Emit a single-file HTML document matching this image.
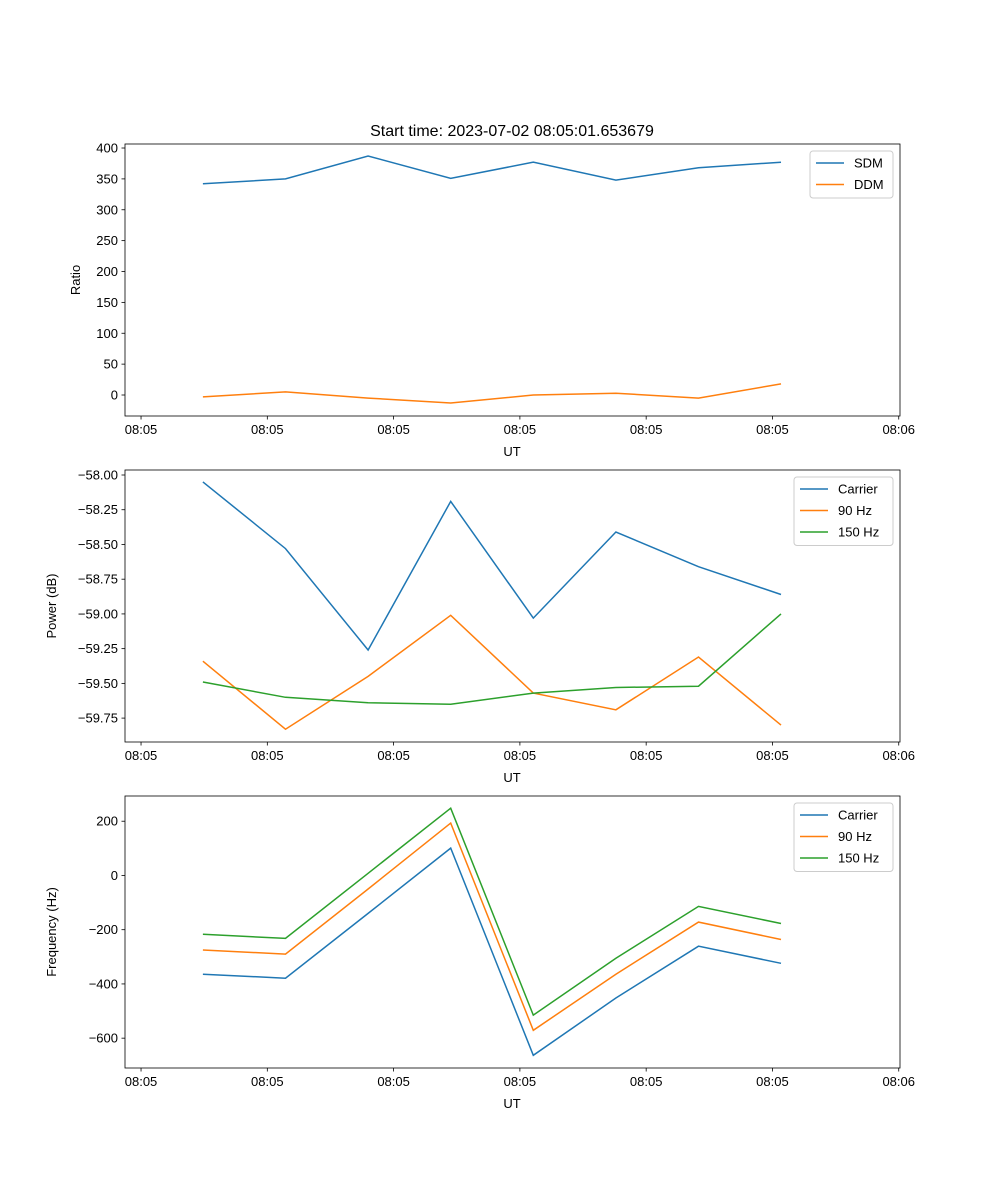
<!DOCTYPE html>
<html><head><meta charset="utf-8"><style>
body{margin:0;background:#fff}
svg{display:block;font-family:"Liberation Sans","DejaVu Sans",sans-serif}
</style></head><body>
<svg id="fig" width="1000" height="1200" viewBox="0 0 1000 1200"></svg>
<script>
const times=[0.49,1.144,1.798,2.452,3.106,3.76,4.414,5.068];
const xTickVals=[0,1,2,3,4,5,6];
const xTickLabels=["08:05","08:05","08:05","08:05","08:05","08:05","08:06"];
const sdm=[342,350,387,351,377,348,368,377];
const ddm=[-3,5,-5,-13,0,3,-5,18];
const pCarrier=[-58.05,-58.53,-59.26,-58.19,-59.03,-58.41,-58.66,-58.86];
const p90=[-59.34,-59.83,-59.45,-59.01,-59.57,-59.69,-59.31,-59.80];
const p150=[-59.49,-59.60,-59.64,-59.65,-59.57,-59.53,-59.52,-59.00];
const fCarrier=[-364,-379,-140,101,-663,-452,-261,-324];
const f90=[-275,-290,-50,193,-571,-364,-172,-236];
const f150=[-217,-232,8,248,-515,-305,-114,-177];
const ticks1=[0,50,100,150,200,250,300,350,400];
const ticks2=[-59.75,-59.5,-59.25,-59,-58.75,-58.5,-58.25,-58];
const ticks3=[-600,-400,-200,0,200];
const C=["#1f77b4","#ff7f0e","#2ca02c"];
const NS="http://www.w3.org/2000/svg";
const svg=document.getElementById("fig");
function el(tag,attrs,parent){const e=document.createElementNS(NS,tag);for(const k in attrs)e.setAttribute(k,attrs[k]);(parent||svg).appendChild(e);return e;}
const L=125,R=900,xmin=-0.127,xmax=6.01;
const xs=v=>L+(v-xmin)/(xmax-xmin)*(R-L);
function panel(idx,top,bottom,ymin,ymax,yt,fmt,ylabel,series,names,legW){
  const g=el("g",{});
  
  
  const ys=v=>bottom-(v-ymin)/(ymax-ymin)*(bottom-top);
  series.forEach((s,i)=>{
    const p=el("polyline",{points:s.map((v,j)=>xs(times[j]).toFixed(1)+","+ys(v).toFixed(1)).join(" "),fill:"none",stroke:C[i],"stroke-width":1.5},g);
    
    
  });
  const f=el("rect",{x:L,y:top,width:R-L,height:bottom-top,fill:"none",stroke:"#000","stroke-width":0.8},g);
  
  
  xTickVals.forEach((v,i)=>{
    const x=xs(v);
    el("line",{x1:x,x2:x,y1:bottom,y2:bottom+3.5,stroke:"#000","stroke-width":0.8},g);
    const t=el("text",{x:x,y:bottom+18,"font-size":13,"text-anchor":"middle"},g);t.textContent=xTickLabels[i];
    
    
  });
  const xl=el("text",{x:512,y:bottom+40,"font-size":13,"text-anchor":"middle"},g);xl.textContent="UT";
  
  
  yt.forEach(v=>{
    const y=ys(v);
    el("line",{x1:L-3.5,x2:L,y1:y,y2:y,stroke:"#000","stroke-width":0.8},g);
    const t=el("text",{x:L-7,y:y+4.5,"font-size":13,"text-anchor":"end"},g);t.textContent=fmt(v);
    
    
  });
  const yl=el("text",{transform:`translate(${idx==1?80:56},${(top+bottom)/2}) rotate(-90)`,"font-size":13,"text-anchor":"middle"},g);yl.textContent=ylabel;
  
  
  const lg=el("g",{},g);
  
  
  const lx=R-7-legW,ly=top+7;
  el("rect",{x:lx,y:ly,width:legW,height:names.length*21.5+4,fill:"#fff",stroke:"#ccc",rx:3},lg);
  names.forEach((n,i)=>{
    const yy=ly+12+i*21.5;
    el("line",{x1:lx+6,x2:lx+34,y1:yy,y2:yy,stroke:C[i],"stroke-width":1.5},lg);
    const t=el("text",{x:lx+44,y:yy+4.5,"font-size":13},lg);t.textContent=n;
    
    
  });
}
const ti=el("text",{x:512,y:136,"font-size":16,"text-anchor":"middle"});ti.textContent="Start time: 2023-07-02 08:05:01.653679";


panel(1,144,416,-34,406.5,ticks1,v=>String(v),"Ratio",[sdm,ddm],["SDM","DDM"],83);
panel(2,470,742,-59.922,-57.964,ticks2,v=>"\u2212"+Math.abs(v).toFixed(2),"Power (dB)",[pCarrier,p90,p150],["Carrier","90 Hz","150 Hz"],99);
panel(3,796,1068,-710,293,ticks3,v=>v<0?"\u2212"+Math.abs(v):String(v),"Frequency (Hz)",[fCarrier,f90,f150],["Carrier","90 Hz","150 Hz"],99);
</script>
</body></html>
